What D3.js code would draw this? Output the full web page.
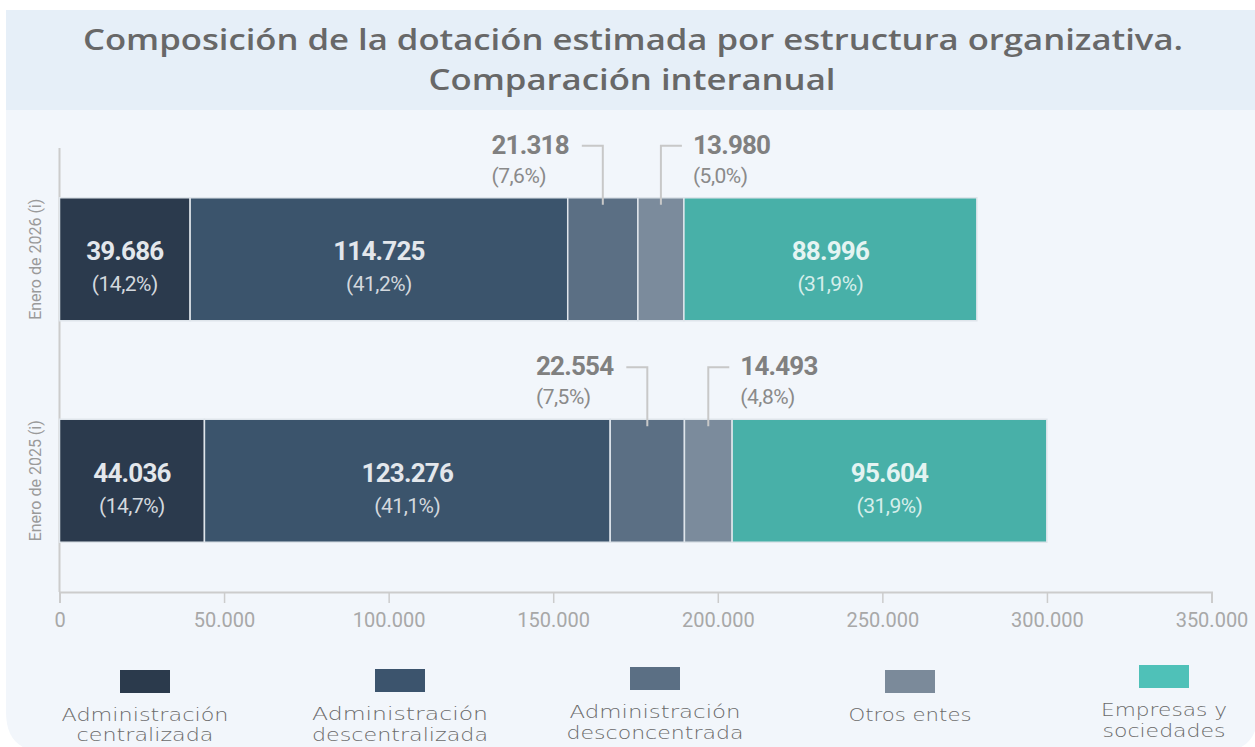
<!DOCTYPE html>
<html>
<head>
<meta charset="utf-8">
<script src="https://cdn.jsdelivr.net/npm/d3@7"></script>
<style>
html,body{margin:0;padding:0;background:#ffffff;overflow:hidden;}
svg{display:block;}
</style>
</head>
<body>
<svg id="chart" width="1255" height="747"></svg>
<script>
// ---- Data ----
const periods = ["Enero de 2026 (i)", "Enero de 2025 (i)"];
const seriesNames = ["Administración centralizada", "Administración descentralizada", "Administración desconcentrada", "Otros entes", "Empresas y sociedades"];
const legendLines = [["Administración", "centralizada"], ["Administración", "descentralizada"], ["Administración", "desconcentrada"], ["Otros entes"], ["Empresas y", "sociedades"]];
const values2026 = [39686, 114725, 21318, 13980, 88996];
const values2025 = [44036, 123276, 22554, 14493, 95604];
const pct2026 = ["14,2%", "41,2%", "7,6%", "5,0%", "31,9%"];
const pct2025 = ["14,7%", "41,1%", "7,5%", "4,8%", "31,9%"];
const xTicks = [0, 50000, 100000, 150000, 200000, 250000, 300000, 350000];
const titleLines = ["Composición de la dotación estimada por estructura organizativa.", "Comparación interanual"];

// ---- Styles ----
const barColors = ["#2b3a4d", "#3b546c", "#5b6f84", "#7b8b9c", "#48b0a8"];
const legendColors = ["#2b3a4c", "#3c546d", "#5b6f84", "#7b8a9a", "#4fc1b8"];
const outsideIdx = [2, 3];   // labels drawn above the bar with leader lines

const svg = d3.select("#chart");

// panel background
const L = 6, T = 10, R = 1258, B = 752, r = 40;
svg.append("path")
  .attr("d", `M${L},${T} L${R},${T} L${R},${B - r} Q${R},${B} ${R - r},${B} L${L + r},${B} Q${L},${B} ${L},${B - r} Z`)
  .attr("fill", "#f2f6fb");
svg.append("rect").attr("x", L).attr("y", T).attr("width", R - L).attr("height", 100).attr("fill", "#e6eff8");

// title
svg.append("text").attr("x", 633).attr("y", 50).attr("text-anchor", "middle")
  .attr("font-family", "'Open Sans', 'Noto Sans', sans-serif").attr("font-weight", 600)
  .attr("font-size", 28).attr("fill", "#686868")
  .attr("textLength", 1100).attr("lengthAdjust", "spacingAndGlyphs")
  .text(titleLines[0]);
svg.append("text").attr("x", 632).attr("y", 90).attr("text-anchor", "middle")
  .attr("font-family", "'Open Sans', 'Noto Sans', sans-serif").attr("font-weight", 600)
  .attr("font-size", 28).attr("fill", "#686868")
  .attr("textLength", 407).attr("lengthAdjust", "spacingAndGlyphs")
  .text(titleLines[1]);

// scales
const x = d3.scaleLinear().domain([0, 350000]).range([59.5, 1211.5]);
const y = d3.scaleBand().domain(periods).range([148, 592]).paddingInner(0.4447).paddingOuter(0.2246);

const locale = d3.formatLocale({decimal: ",", thousands: ".", grouping: [3], currency: ["$", ""]});
const fmt = locale.format(",d");

// axes
const xAxis = d3.axisBottom(x).tickValues(xTicks).tickFormat(fmt).tickSize(11).tickPadding(10);
const gx = svg.append("g").attr("transform", "translate(0,592)").call(xAxis);
gx.select(".domain").attr("stroke", "#cccccc").attr("stroke-width", 2);
gx.selectAll(".tick line").attr("stroke", "#cccccc").attr("stroke-width", 1.5);
gx.selectAll(".tick text").attr("fill", "#a8a8a8").attr("font-family", "Roboto, sans-serif").attr("font-size", 20);

svg.append("line").attr("x1", 59.5).attr("x2", 59.5).attr("y1", 148).attr("y2", 592)
  .attr("stroke", "#cccccc").attr("stroke-width", 2);

// y labels
periods.forEach(p => {
  const cy = y(p) + y.bandwidth() / 2;
  svg.append("text").attr("transform", `translate(41,${cy}) rotate(-90)`)
    .attr("text-anchor", "middle").attr("font-family", "Roboto, sans-serif")
    .attr("font-size", 16).attr("fill", "#9a9a9a").text(p);
});

// stacked data
const rows = [
  {period: periods[0], vals: values2026, pcts: pct2026},
  {period: periods[1], vals: values2025, pcts: pct2025}
];

rows.forEach(row => {
  let acc = 0;
  const top = y(row.period), bw = y.bandwidth(), cy = top + bw / 2;
  const g = svg.append("g");
  row.vals.forEach((v, i) => {
    const x0 = x(acc), x1 = x(acc + v);
    acc += v;
    g.append("rect").attr("x", x0).attr("y", top).attr("width", x1 - x0).attr("height", bw)
      .attr("fill", barColors[i]).attr("stroke", "#dfe5eb").attr("stroke-width", 1.5);
    const cx = (x0 + x1) / 2;
    if (outsideIdx.indexOf(i) < 0) {
      const light = i === 4 ? "#e4f4f2" : "#e3e7ec";
      g.append("text").attr("x", cx).attr("y", cy + 1).attr("text-anchor", "middle")
        .attr("font-family", "Roboto, sans-serif").attr("font-weight", 700).attr("font-size", 26)
        .attr("letter-spacing", -0.8).attr("fill", light).text(fmt(v));
      g.append("text").attr("x", cx).attr("y", cy + 32).attr("text-anchor", "middle")
        .attr("font-family", "Roboto, sans-serif").attr("font-size", 21)
        .attr("letter-spacing", -0.5).attr("fill", i === 4 ? "#d6eeeb" : "#d3d8de").text("(" + row.pcts[i] + ")");
    } else {
      const left = i === 2;
      const ly = top - 52;
      const lx = left ? cx - 21 : cx + 21;
      g.append("path").attr("d", `M${lx},${ly} L${cx},${ly} L${cx},${top + 7}`)
        .attr("fill", "none").attr("stroke", "#c8c8c8").attr("stroke-width", 2);
      const tx = left ? cx - 34 : cx + 32;
      const anchor = left ? "end" : "start";
      const vt = g.append("text").attr("x", tx).attr("y", top - 44).attr("text-anchor", anchor)
        .attr("font-family", "Roboto, sans-serif").attr("font-weight", 700).attr("font-size", 26)
        .attr("letter-spacing", -0.8).attr("fill", "#808080").text(fmt(v));
      const startX = left ? tx - vt.node().getComputedTextLength() : tx;
      g.append("text").attr("x", startX).attr("y", top - 15).attr("text-anchor", "start")
        .attr("font-family", "Roboto, sans-serif").attr("font-size", 21)
        .attr("letter-spacing", -0.5).attr("fill", "#8a8a8a").text("(" + row.pcts[i] + ")");
    }
  });
});

// legend
const legendCenters = [145, 400, 655, 910, 1164];
const swatchY = [670, 669, 667, 670, 665];
const lineWidths = [[167, 137], [176, 176], [171, 177], [123], [126, 123]];
seriesNames.forEach((name, i) => {
  const cx = legendCenters[i];
  svg.append("rect").attr("x", cx - 25).attr("y", swatchY[i]).attr("width", 50).attr("height", 23)
    .attr("fill", legendColors[i]);
  const base = swatchY[i] + 51;
  legendLines[i].forEach((ln, k) => {
    svg.append("text").attr("x", cx).attr("y", k === 0 ? base : Math.min(base + 21, 741)).attr("text-anchor", "middle")
      .attr("font-family", "'DejaVu Sans', sans-serif").attr("font-weight", 300).attr("font-size", 17)
      .attr("fill", "#6a6a6a")
      .attr("textLength", lineWidths[i][k]).attr("lengthAdjust", "spacingAndGlyphs")
      .text(ln);
  });
});
</script>
</body>
</html>
